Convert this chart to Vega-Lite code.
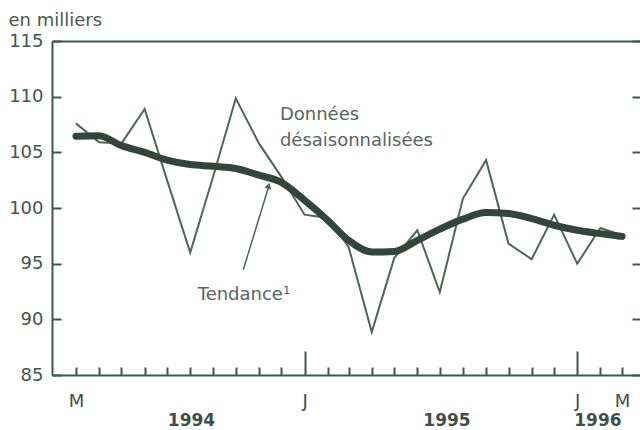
{
  "$schema": "https://vega.github.io/schema/vega-lite/v6.json",
  "width": 588,
  "height": 334,
  "autosize": {"type": "none"},
  "padding": {"left": 52, "top": 41, "right": 0, "bottom": 55},
  "background": "#ffffff",
  "config": {"view": {"stroke": null}, "font": "DejaVu Sans"},
  "datasets": {
    "series": [
      {"date": "1994-03-01", "donnees": 107.6, "tendance": 106.45},
      {"date": "1994-04-01", "donnees": 105.9, "tendance": 106.5},
      {"date": "1994-05-01", "donnees": 105.8, "tendance": 105.6},
      {"date": "1994-06-01", "donnees": 108.9, "tendance": 105.0},
      {"date": "1994-07-01", "donnees": 102.5, "tendance": 104.3},
      {"date": "1994-08-01", "donnees": 96.0, "tendance": 103.9},
      {"date": "1994-09-01", "donnees": 102.9, "tendance": 103.75},
      {"date": "1994-10-01", "donnees": 109.85, "tendance": 103.55},
      {"date": "1994-11-01", "donnees": 105.8, "tendance": 102.95},
      {"date": "1994-12-01", "donnees": 102.8, "tendance": 102.3},
      {"date": "1995-01-01", "donnees": 99.4, "tendance": 100.7},
      {"date": "1995-02-01", "donnees": 99.1, "tendance": 98.9},
      {"date": "1995-03-01", "donnees": 96.5, "tendance": 97.1},
      {"date": "1995-04-01", "donnees": 88.85, "tendance": 96.05},
      {"date": "1995-05-01", "donnees": 95.5, "tendance": 96.1},
      {"date": "1995-06-01", "donnees": 98.0, "tendance": 97.1},
      {"date": "1995-07-01", "donnees": 92.45, "tendance": 98.1},
      {"date": "1995-08-01", "donnees": 100.85, "tendance": 99.0},
      {"date": "1995-09-01", "donnees": 104.3, "tendance": 99.6},
      {"date": "1995-10-01", "donnees": 96.8, "tendance": 99.5},
      {"date": "1995-11-01", "donnees": 95.4, "tendance": 99.05},
      {"date": "1995-12-01", "donnees": 99.4, "tendance": 98.45},
      {"date": "1996-01-01", "donnees": 95.0, "tendance": 98.0},
      {"date": "1996-02-01", "donnees": 98.2, "tendance": 97.7},
      {"date": "1996-03-01", "donnees": 97.55, "tendance": 97.45}
    ]
  },
  "layer": [
    {
      "data": {"name": "series"},
      "mark": {"type": "line", "color": "#4c6659", "strokeWidth": 2, "strokeJoin": "miter"},
      "encoding": {
        "x": {
          "field": "date", "type": "temporal",
          "scale": {"type": "utc", "domain": [{"year": 1994, "month": 1, "date": 28, "utc": true}, {"year": 1996, "month": 3, "date": 25, "utc": true}]},
          "axis": {
            "orient": "bottom", "title": null, "labels": false, "grid": false,
            "domain": true, "domainColor": "#3b5a4c", "domainWidth": 2,
            "ticks": true, "tickColor": "#3b5a4c", "tickWidth": 2,
            "tickSize": {"condition": {"test": "utcmonth(datum.value) === 0", "value": -24}, "value": -8},
            "values": [
              {"year": 1994, "month": 3, "date": 1, "utc": true},
              {"year": 1994, "month": 4, "date": 1, "utc": true},
              {"year": 1994, "month": 5, "date": 1, "utc": true},
              {"year": 1994, "month": 6, "date": 1, "utc": true},
              {"year": 1994, "month": 7, "date": 1, "utc": true},
              {"year": 1994, "month": 8, "date": 1, "utc": true},
              {"year": 1994, "month": 9, "date": 1, "utc": true},
              {"year": 1994, "month": 10, "date": 1, "utc": true},
              {"year": 1994, "month": 11, "date": 1, "utc": true},
              {"year": 1994, "month": 12, "date": 1, "utc": true},
              {"year": 1995, "month": 1, "date": 1, "utc": true},
              {"year": 1995, "month": 2, "date": 1, "utc": true},
              {"year": 1995, "month": 3, "date": 1, "utc": true},
              {"year": 1995, "month": 4, "date": 1, "utc": true},
              {"year": 1995, "month": 5, "date": 1, "utc": true},
              {"year": 1995, "month": 6, "date": 1, "utc": true},
              {"year": 1995, "month": 7, "date": 1, "utc": true},
              {"year": 1995, "month": 8, "date": 1, "utc": true},
              {"year": 1995, "month": 9, "date": 1, "utc": true},
              {"year": 1995, "month": 10, "date": 1, "utc": true},
              {"year": 1995, "month": 11, "date": 1, "utc": true},
              {"year": 1995, "month": 12, "date": 1, "utc": true},
              {"year": 1996, "month": 1, "date": 1, "utc": true},
              {"year": 1996, "month": 2, "date": 1, "utc": true},
              {"year": 1996, "month": 3, "date": 1, "utc": true}
            ]
          }
        },
        "y": {
          "field": "donnees", "type": "quantitative",
          "scale": {"domain": [85, 115], "nice": false, "zero": false},
          "axis": {
            "orient": "left", "values": [85, 90, 95, 100, 105, 110, 115], "grid": false,
            "domain": true, "domainColor": "#3b5a4c", "domainWidth": 2,
            "ticks": true, "tickSize": -9, "tickColor": "#3b5a4c", "tickWidth": 2,
            "labelFont": "DejaVu Sans", "labelFontSize": 18, "labelColor": "#44554c", "labelPadding": 18,
            "title": "en milliers", "titleAngle": 0, "titleX": -44, "titleY": -16,
            "titleAlign": "left", "titleBaseline": "alphabetic", "titleFont": "DejaVu Sans",
            "titleFontSize": 18, "titleFontWeight": "normal", "titleColor": "#4a5a52"
          }
        }
      }
    },
    {
      "data": {"name": "series"},
      "mark": {"type": "line", "color": "#33463c", "strokeWidth": 7, "interpolate": "monotone", "strokeCap": "round"},
      "encoding": {
        "x": {
          "field": "date", "type": "temporal",
          "axis": {
            "orient": "bottom", "title": null, "grid": false, "domain": false, "ticks": false,
            "labelOverlap": false, "labelFlush": false, "labelBound": false,
            "labelFont": "DejaVu Sans", "labelColor": "#3f4f47",
            "labelFontSize": {"condition": {"test": "utcdate(datum.value) !== 1", "value": 17}, "value": 18},
            "labelFontWeight": {"condition": {"test": "utcdate(datum.value) !== 1", "value": "bold"}, "value": "normal"},
            "labelPadding": {"condition": {"test": "utcdate(datum.value) !== 1", "value": 37}, "value": 17},
            "labelExpr": "utcdate(datum.value) === 1 ? (utcmonth(datum.value) === 2 ? 'M' : 'J') : '' + utcyear(datum.value)",
            "values": [
              {"year": 1994, "month": 3, "date": 1, "utc": true},
              {"year": 1994, "month": 8, "date": 2, "utc": true},
              {"year": 1995, "month": 1, "date": 1, "utc": true},
              {"year": 1995, "month": 7, "date": 10, "utc": true},
              {"year": 1996, "month": 1, "date": 1, "utc": true},
              {"year": 1996, "month": 1, "date": 28, "utc": true},
              {"year": 1996, "month": 3, "date": 1, "utc": true}
            ]
          }
        },
        "y": {
          "field": "tendance", "type": "quantitative",
          "axis": {
            "orient": "right", "values": [85, 90, 95, 100, 105, 110, 115], "grid": false,
            "domain": false, "labels": false, "title": null,
            "ticks": true, "tickSize": -8, "tickColor": "#3b5a4c", "tickWidth": 2
          }
        }
      }
    },
    {
      "data": {"values": [
        {"date": "1994-11-29", "v": 107.94, "label": "Données"},
        {"date": "1994-11-29", "v": 105.6, "label": "désaisonnalisées"},
        {"date": "1994-08-11", "v": 91.75, "label": "Tendance¹"}
      ]},
      "mark": {"type": "text", "align": "left", "baseline": "alphabetic", "font": "DejaVu Sans", "fontSize": 18, "color": "#56665e"},
      "encoding": {
        "x": {
          "field": "date", "type": "temporal",
          "axis": {"orient": "top", "title": null, "labels": false, "ticks": false, "grid": false, "domain": true, "domainColor": "#3b5a4c", "domainWidth": 2}
        },
        "y": {"field": "v", "type": "quantitative", "axis": null},
        "text": {"field": "label"}
      }
    },
    {
      "data": {"values": [
        {"date": "1994-10-11", "v": 94.45, "date2": "1994-11-13", "v2": 101.7}
      ]},
      "mark": {"type": "rule", "color": "#4c6659", "strokeWidth": 1.5},
      "encoding": {
        "x": {"field": "date", "type": "temporal", "axis": null},
        "y": {"field": "v", "type": "quantitative", "axis": null},
        "x2": {"field": "date2"},
        "y2": {"field": "v2"}
      }
    },
    {
      "data": {"values": [
        {"date": "1994-11-14", "v": 102.0}
      ]},
      "mark": {"type": "point", "shape": "triangle-up", "filled": true, "color": "#4c6659", "size": 50, "angle": 17, "opacity": 1},
      "encoding": {
        "x": {"field": "date", "type": "temporal", "axis": null},
        "y": {"field": "v", "type": "quantitative", "axis": null}
      }
    }
  ],
  "resolve": {"axis": {"x": "independent", "y": "independent"}}
}
